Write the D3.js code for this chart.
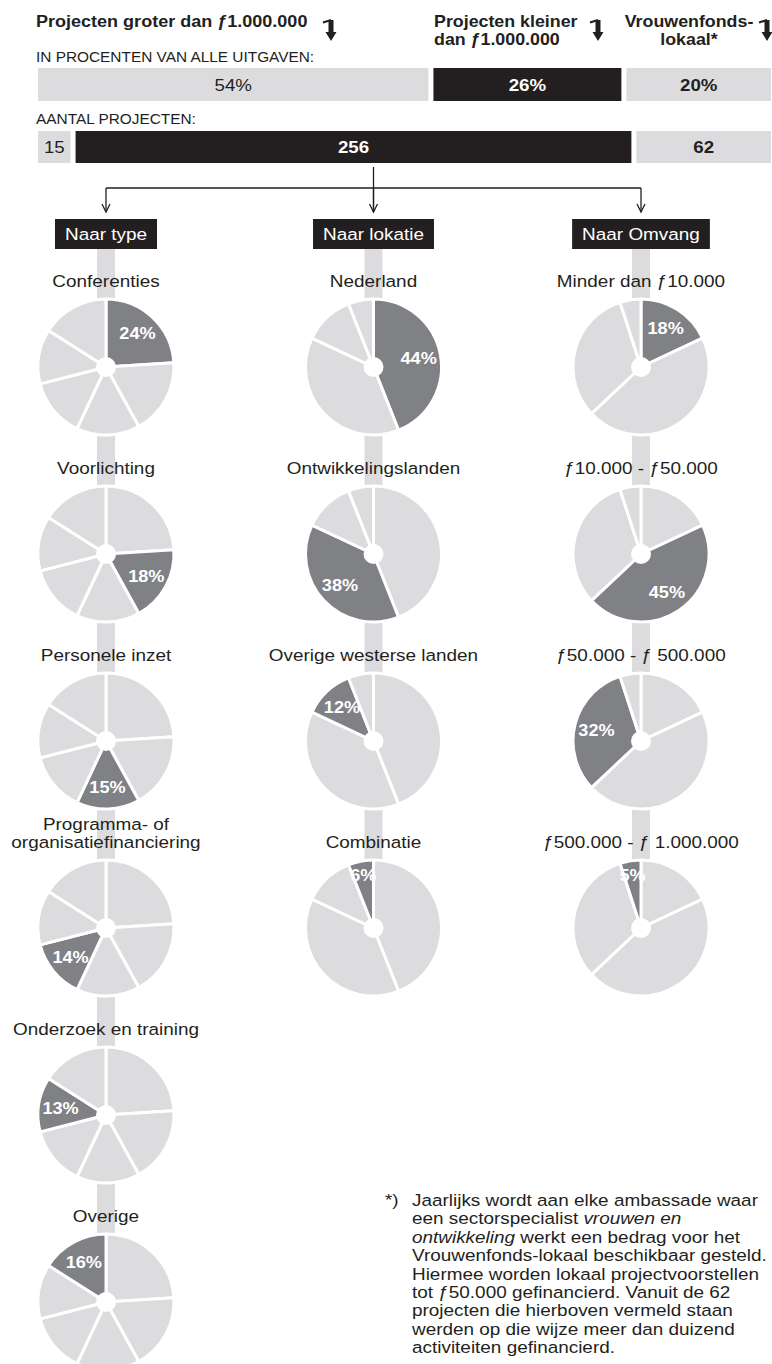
<!DOCTYPE html>
<html>
<head>
<meta charset="utf-8">
<script src="https://cdn.jsdelivr.net/npm/d3@7"></script>
<style>
  html, body { margin: 0; padding: 0; background: #fff; }
  svg { display: block; font-family: "Liberation Sans", Arial, sans-serif; }
</style>
</head>
<body>
<script>
// --- data ---
const spendLabels = ['54%', '26%', '20%'];
const spendValues = [54, 26, 20];
const countValues = [15, 256, 62];

const groups = ['Naar type', 'Naar lokatie', 'Naar Omvang'];

const typeLabels = ['Conferenties', 'Voorlichting', 'Personele inzet',
  'Programma- of\norganisatiefinanciering', 'Onderzoek en training', 'Overige'];
const typeValues = [24, 18, 15, 14, 13, 16];

const locLabels = ['Nederland', 'Ontwikkelingslanden', 'Overige westerse landen', 'Combinatie'];
const locValues = [44, 38, 12, 6];

const sizeLabels = ['Minder dan ƒ10.000', 'ƒ10.000 - ƒ50.000', 'ƒ50.000 - ƒ 500.000', 'ƒ500.000 - ƒ 1.000.000'];
const sizeValues = [18, 45, 32, 5];

const noteLines = [
  [['Jaarlijks wordt aan elke ambassade waar']],
  [['een sectorspecialist '], ['vrouwen en', true]],
  [['ontwikkeling', true], [' werkt een bedrag voor het']],
  [['Vrouwenfonds-lokaal beschikbaar gesteld.']],
  [['Hiermee worden lokaal projectvoorstellen']],
  [['tot ƒ50.000 gefinancierd. Vanuit de 62']],
  [['projecten die hierboven vermeld staan']],
  [['werden op die wijze meer dan duizend']],
  [['activiteiten gefinancierd.']]
];

// --- style ---
const W = 772, H = 1364;
const INK = '#231f20';
const LIGHT = '#dcdcde';
const DARK = '#808185';
const SX = 1.1; // source face is a bit wider than Liberation Sans

const svg = d3.select('body').append('svg').attr('width', W).attr('height', H);

function txt(g, x, y, str, o = {}) {
  return g.append('text')
    .attr('transform', `translate(${x},${y}) scale(${SX},1)`)
    .attr('font-size', o.size || 17)
    .attr('font-weight', o.weight || 'normal')
    .attr('fill', o.fill || INK)
    .attr('text-anchor', o.anchor || 'start')
    .attr('dy', o.dy || null)
    .text(str);
}

// --- header ---
const head = svg.append('g');
txt(head, 36, 27, 'Projecten groter dan ƒ1.000.000', { size: 16.4, weight: 'bold' });
txt(head, 434, 27, 'Projecten kleiner', { size: 16.2, weight: 'bold' });
txt(head, 434, 45, 'dan ƒ1.000.000', { size: 16.2, weight: 'bold' });
txt(head, 689, 27, 'Vrouwenfonds-', { size: 16.2, weight: 'bold', anchor: 'middle' });
txt(head, 689, 45, 'lokaal*', { size: 16.2, weight: 'bold', anchor: 'middle' });

function hookArrow(x, y) {
  head.append('path')
    .attr('d', `M${x - 8},${y + 2.5} L${x},${y}`)
    .attr('stroke', INK).attr('stroke-width', 2.2).attr('fill', 'none');
  head.append('path')
    .attr('d', `M${x - 2.5},${y} H${x + 2.5} V${y + 12} H${x + 5.5} L${x},${y + 21} L${x - 5.5},${y + 12} H${x - 2.5} Z`)
    .attr('fill', INK);
}
[331, 598, 767].forEach(x => hookArrow(x, 20));

txt(head, 36, 61.5, 'IN PROCENTEN VAN ALLE UITGAVEN:', { size: 14 });
txt(head, 36, 123.5, 'AANTAL PROJECTEN:', { size: 14 });

// --- stacked bars ---
const barX0 = 38, barX1 = 771, gap = 5;
function drawBar(values, labels, y, h) {
  const total = d3.sum(values);
  const x = d3.scaleLinear().domain([0, total])
    .range([0, barX1 - barX0 - gap * (values.length - 1)]);
  let cum = 0;
  values.forEach((v, i) => {
    const x0 = barX0 + x(cum) + i * gap;
    const w = x(v);
    cum += v;
    const black = i === 1;
    svg.append('rect').attr('x', x0).attr('y', y).attr('width', w).attr('height', h)
      .attr('fill', black ? INK : LIGHT);
    txt(svg, x0 + w / 2, y + h / 2, labels[i], {
      size: 17, anchor: 'middle', dy: '0.36em',
      weight: i === 0 ? 'normal' : 'bold',
      fill: black ? '#fff' : INK
    });
  });
}
drawBar(spendValues, spendLabels, 68, 33);
drawBar(countValues, countValues.map(String), 131, 32);

// --- columns ---
const colX = d3.scalePoint().domain(groups).range([106, 641]);
const rowY = d3.scaleLinear().domain([0, 1]).range([367, 554]);
const R = 68;

const columns = [
  { name: groups[0], labels: typeLabels, values: typeValues },
  { name: groups[1], labels: locLabels, values: locValues },
  { name: groups[2], labels: sizeLabels, values: sizeValues }
];

// tree connector
const tree = svg.append('g').attr('stroke', INK).attr('stroke-width', 1.3).attr('fill', 'none');
const midX = colX(groups[1]);
const tipY = 212;
tree.append('line').attr('x1', midX).attr('x2', midX).attr('y1', 167).attr('y2', tipY);
tree.append('line').attr('x1', colX(groups[0])).attr('x2', colX(groups[2])).attr('y1', 188).attr('y2', 188);
groups.forEach(gname => {
  const x = colX(gname);
  tree.append('line').attr('x1', x).attr('x2', x).attr('y1', 188).attr('y2', tipY);
  tree.append('path').attr('d', `M${x - 4},${tipY - 8} L${x},${tipY} L${x + 4},${tipY - 8}`);
});

const arc = d3.arc().innerRadius(0).outerRadius(R);
const pie = d3.pie().sort(null).value(d => d);

columns.forEach(col => {
  const cx = colX(col.name);
  const g = svg.append('g');
  const lastY = rowY(col.values.length - 1);

  // grey spine behind the column
  g.append('rect').attr('x', cx - 9).attr('width', 18)
    .attr('y', 249).attr('height', (col.name === groups[0] ? H : lastY) - 249)
    .attr('fill', LIGHT);

  // black label box
  const box = g.append('g');
  const bt = txt(box, cx, 240, col.name, { size: 17.2, anchor: 'middle', fill: '#fff' });
  const bw = bt.node().getComputedTextLength() * SX + 20;
  box.insert('rect', 'text').attr('x', cx - bw / 2).attr('y', 219).attr('width', bw).attr('height', 30)
    .attr('fill', INK);

  const slices = pie(col.values);
  col.values.forEach((v, k) => {
    const cy = rowY(k);
    const lines = col.labels[k].split('\n');
    lines.forEach((ln, j) => {
      txt(g, cx, cy - 80 - (lines.length - 1 - j) * 18, ln, { size: 17.2, anchor: 'middle' });
    });

    const pg = g.append('g').attr('transform', `translate(${cx},${cy})`);
    pg.selectAll('path').data(slices).join('path')
      .attr('d', arc)
      .attr('fill', (d, i) => i === k ? DARK : LIGHT)
      .attr('stroke', '#fff').attr('stroke-width', 3).attr('stroke-linejoin', 'round');
    pg.append('circle').attr('r', 10).attr('fill', '#fff');

    const rl = v < 10 ? 54 : 46;
    const c = d3.arc().innerRadius(rl).outerRadius(rl).centroid(slices[k]);
    txt(pg, c[0], c[1], `${v}%`, { size: 16.5, weight: 'bold', anchor: 'middle', fill: '#fff', dy: '0.36em' });
  });
});

// --- footnote ---
const note = svg.append('g');
txt(note, 385, 1206, '*)', { size: 17.2 });
noteLines.forEach((parts, i) => {
  const t = txt(note, 412, 1206 + i * 18.4, '', { size: 17.2 });
  parts.forEach(([s, it]) => {
    t.append('tspan').attr('font-style', it ? 'italic' : null).text(s);
  });
});
</script>
</body>
</html>
